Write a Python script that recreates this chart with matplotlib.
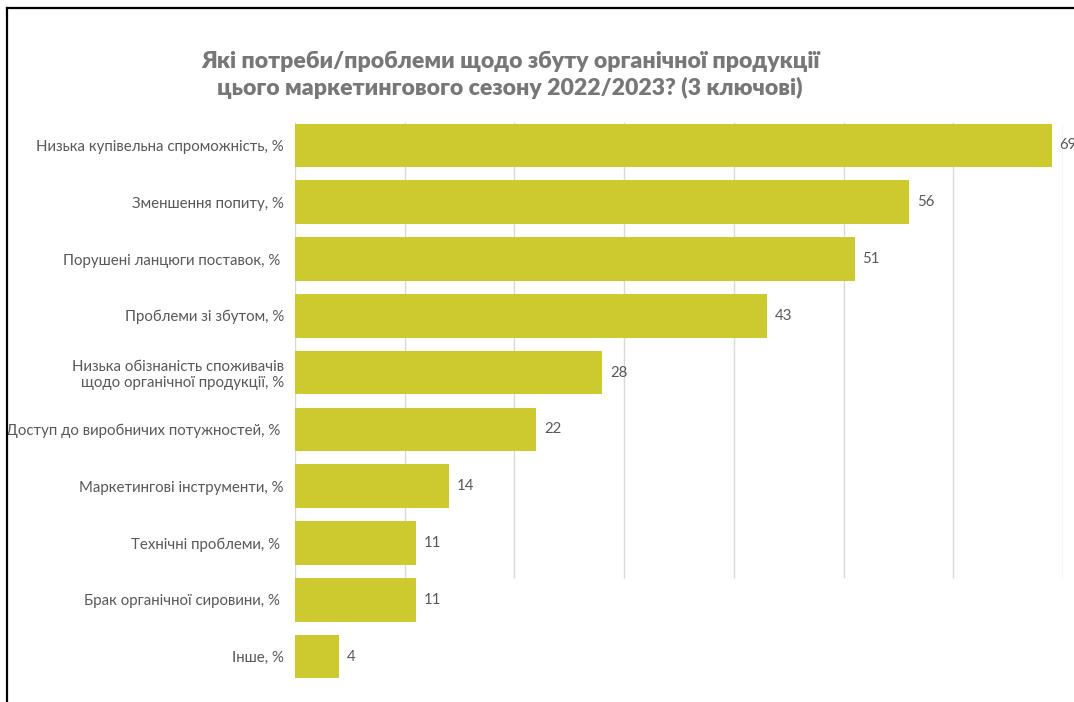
import matplotlib.pyplot as plt
from matplotlib.lines import Line2D

categories = ['Низька купівельна спроможність, %',
              'Зменшення попиту, %',
              'Порушені ланцюги поставок, % ',
              'Проблеми зі збутом, %',
              'Низька обізнаність споживачів\nщодо органічної продукції, %',
              'Доступ до виробничих потужностей, % ',
              'Маркетингові інструменти, %',
              'Технічні проблеми, % ',
              'Брак органічної сировини, % ',
              'Інше, %']
values = [69, 56, 51, 43, 28, 22, 14, 11, 11, 4]
title = 'Які потреби/проблеми щодо збуту органічної продукції\nцього маркетингового сезону 2022/2023? (3 ключові)'

bar_color = '#CDCA30'
text_color = '#595959'
grid_color = '#D9D9D9'

plt.rcParams['font.family'] = ['Lato', 'DejaVu Sans']

fig = plt.figure(figsize=(10.74, 7.02), dpi=100)
ax = fig.add_axes([295/1074, 1 - 685/702, 768/1074, 568/702])

y = list(range(len(values)))
ax.barh(y, values, height=0.77, color=bar_color, zorder=2)
for yi, v in zip(y, values):
    ax.text(v + 0.7, yi, str(v), va='center', ha='left', fontsize=10.8, color=text_color)

ax.set_xlim(0, 70)
ax.set_ylim(9.5, -0.5)
ax.set_yticks(y)
ax.set_yticklabels(categories, fontsize=10.8, color=text_color)
ax.tick_params(axis='y', length=0, pad=8)
ax.set_xticks([])
for s in ax.spines.values():
    s.set_visible(False)

# gridlines and axis stop at the top edge of the 9th bar
for gx in range(0, 80, 10):
    ax.vlines(gx, -0.42, 7.61, color=grid_color, linewidth=1, zorder=1)

fig.text(0.475, 1 - 75/702, title, ha='center', va='center', fontsize=16.6,
         fontweight='heavy', color='#777777', linespacing=1.22)

# page frame
fig.add_artist(Line2D([7.5/1074, 1], [1 - 7.5/702, 1 - 7.5/702], color='black', linewidth=1.6))
fig.add_artist(Line2D([7.5/1074, 7.5/1074], [0, 1 - 7.5/702], color='black', linewidth=1.6))

fig.savefig('out.png', dpi=100)
